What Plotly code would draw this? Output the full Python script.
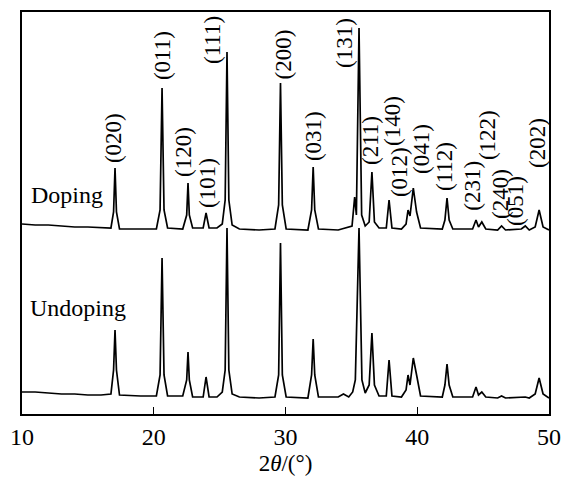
import plotly.graph_objects as go

# ---- data (2theta in degrees, intensity in arbitrary units) ----
doping_x = [10.0, 11.0, 12.0, 13.0, 14.0, 15.0, 16.0, 16.75, 16.95, 17.06, 17.17, 17.4, 18.5,
            20.2, 20.48, 20.63, 20.78, 21.05, 22.2, 22.5, 22.6, 22.7, 22.95, 23.75, 23.97, 24.2,
            24.8, 25.2, 25.42, 25.56, 25.7, 25.95, 26.5, 28.0, 29.2, 29.48, 29.62, 29.76, 30.05,
            31.7, 31.98, 32.1, 32.22, 32.5, 34.0, 34.6, 35.05, 35.25, 35.38, 35.58, 35.78, 36.05,
            36.35, 36.56, 36.75, 37.1, 37.65, 37.86, 38.08, 38.8, 39.15, 39.3, 39.45, 39.7, 39.95,
            40.25, 41.9, 42.1, 42.26, 42.42, 42.7, 44.2, 44.46, 44.65, 44.9, 45.2, 46.1, 46.4,
            46.7, 47.9, 48.2, 48.5, 48.95, 49.25, 49.55, 50.0]
doping_y = [190, 189, 189, 188, 187, 187, 186, 186, 202, 246, 202, 185, 185,
            185, 204, 326, 204, 186, 185, 199, 231, 199, 186, 186, 201, 186,
            186, 190, 214, 362, 214, 189, 185, 184, 185, 209, 331, 209, 185,
            184, 204, 247, 204, 185, 184, 186, 188, 217, 199, 386, 199, 188,
            192, 242, 192, 186, 186, 214, 186, 185, 190, 204, 198, 226, 202,
            186, 185, 194, 216, 194, 185, 185, 194, 187, 192, 185, 184, 188,
            184, 185, 188, 184, 187, 204, 187, 184]

undoping_x = [10.0, 11.0, 12.0, 13.0, 14.0, 15.0, 16.0, 16.75, 16.95, 17.06, 17.17, 17.4, 19.0,
              20.2, 20.48, 20.63, 20.78, 21.05, 22.2, 22.5, 22.6, 22.7, 22.95, 23.75, 23.97, 24.2,
              24.8, 25.2, 25.42, 25.56, 25.7, 25.95, 26.5, 28.0, 29.2, 29.48, 29.62, 29.76, 30.05,
              31.7, 31.98, 32.1, 32.22, 32.5, 34.0, 34.4, 34.8, 35.1, 35.3, 35.58, 35.8, 36.05,
              36.35, 36.56, 36.75, 37.1, 37.65, 37.86, 38.08, 38.8, 39.15, 39.3, 39.45, 39.7, 39.95,
              40.25, 41.9, 42.1, 42.26, 42.42, 42.7, 44.2, 44.46, 44.65, 44.9, 45.2, 46.1, 46.4,
              46.7, 47.9, 48.2, 48.5, 48.95, 49.25, 49.55, 50.0]
undoping_y = [22, 22, 21, 20, 20, 19, 19, 20, 44, 84, 44, 19, 18,
              18, 39, 156, 39, 18, 18, 34, 62, 34, 17, 17, 37, 17,
              17, 22, 44, 186, 44, 20, 17, 16, 17, 39, 171, 39, 17,
              16, 39, 75, 39, 17, 17, 20, 17, 22, 34, 186, 34, 21,
              29, 81, 29, 18, 18, 54, 18, 17, 24, 39, 29, 56, 39,
              18, 17, 29, 50, 29, 17, 17, 27, 19, 22, 17, 16, 18,
              16, 17, 17, 16, 20, 36, 20, 16]

peak_labels = ["(020)", "(011)", "(120)", "(101)", "(111)", "(200)", "(031)", "(131)", "(211)",
               "(140)", "(012)", "(041)", "(112)", "(231)", "(122)", "(240)", "(051)", "(202)"]
label_x = [16.91, 20.63, 22.22, 24.04, 24.42, 29.84, 32.09, 34.44, 36.41,
           38.08, 38.62, 40.28, 42.03, 44.13, 45.30, 46.28, 47.42, 49.09]
label_y = [276, 358, 262, 231, 374, 360, 278, 371, 274,
           293, 242, 265, 247, 228, 279, 220, 213, 271]

series_names = ["Doping", "Undoping"]
series_label_x = [10.5, 10.45]
series_label_y = [219, 106]

x_ticks = [10, 20, 30, 40, 50]

SERIF = "Liberation Serif, Times New Roman, serif"

fig = go.Figure()
fig.add_trace(go.Scatter(x=doping_x, y=doping_y, mode="lines", name="Doping",
                         line=dict(color="black", width=1.7)))
fig.add_trace(go.Scatter(x=undoping_x, y=undoping_y, mode="lines", name="Undoping",
                         line=dict(color="black", width=1.7)))

for t, x, y in zip(peak_labels, label_x, label_y):
    fig.add_annotation(x=x, y=y, text=t, showarrow=False, textangle=-90,
                       xanchor="center", yanchor="middle",
                       font=dict(family=SERIF, size=23, color="black"))

for t, x, y in zip(series_names, series_label_x, series_label_y):
    fig.add_annotation(x=x, y=y, text=t, showarrow=False, xanchor="left", yanchor="middle",
                       font=dict(family=SERIF, size=24, color="black"))

fig.update_layout(
    width=561, height=479,
    margin=dict(l=22, r=12, t=12, b=65, autoexpand=False),
    paper_bgcolor="white", plot_bgcolor="white",
    showlegend=False,
    font=dict(family=SERIF, size=23, color="black"),
)
fig.update_xaxes(range=[10, 50], tickvals=x_ticks, ticks="inside", ticklen=7, tickwidth=1.2,
                 tickcolor="black", showline=True, linecolor="black", linewidth=1.5, mirror=True,
                 showgrid=False, zeroline=False, automargin=False,
                 tickfont=dict(family=SERIF, size=24, color="black"),
                 title=dict(text="2<i>θ</i>/(°)", font=dict(family=SERIF, size=23, color="black"),
                            standoff=6))
fig.update_yaxes(range=[0, 402], showticklabels=False, ticks="", showline=True, linecolor="black",
                 linewidth=1.5, mirror=True, showgrid=False, zeroline=False, automargin=False)

fig.write_html("out.html", config={"displayModeBar": False},
               post_script="document.body.style.margin='0px';document.body.style.overflow='hidden';")
